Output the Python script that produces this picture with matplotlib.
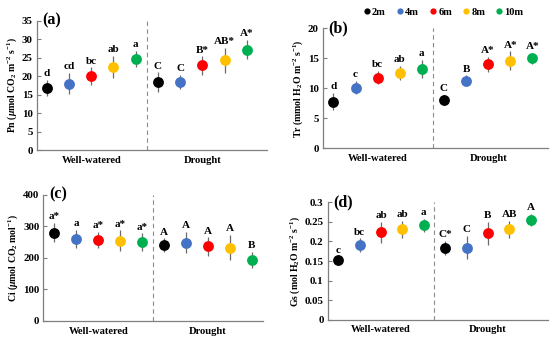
import numpy as np
import matplotlib
matplotlib.use("Agg")
import matplotlib.pyplot as plt
from matplotlib.ticker import FuncFormatter, MultipleLocator
from matplotlib.lines import Line2D

plt.rcParams['font.family'] = ['Liberation Serif', 'DejaVu Serif']
plt.rcParams['font.weight'] = 'bold'
plt.rcParams['mathtext.fontset'] = 'custom'
plt.rcParams['mathtext.rm'] = 'Liberation Serif:bold'
plt.rcParams['mathtext.it'] = 'Liberation Serif:bold:italic'
plt.rcParams['mathtext.bf'] = 'Liberation Serif:bold'

groups = ["Well-watered", "Drought"]
series = ["2m", "4m", "6m", "8m", "10m"]
colors = ["#000000", "#4472C4", "#FF0000", "#FFC000", "#00B050"]

# Pn
pn_mean = [[16.9, 18.0, 20.0, 22.5, 24.7], [18.4, 18.5, 22.9, 24.3, 27.2]]
pn_err = [[2.2, 2.9, 2.4, 3.1, 2.1], [2.6, 1.9, 2.5, 3.4, 2.6]]
pn_let = [["d", "cd", "bc", "ab", "a"], ["C", "C", "B*", "AB*", "A*"]]
# Tr
tr_mean = [[7.8, 10.1, 11.8, 12.6, 13.2], [8.1, 11.3, 14.0, 14.6, 15.0]]
tr_err = [[1.4, 1.1, 1.1, 1.2, 1.5], [0.85, 0.85, 1.25, 1.55, 0.95]]
tr_let = [["d", "c", "bc", "ab", "a"], ["C", "B", "A*", "A*", "A*"]]
# Ci
ci_mean = [[280, 260, 256, 254, 249], [240, 248, 236, 232, 194]]
ci_err = [[31, 29, 26, 33, 29], [22, 34, 29, 40, 25]]
ci_let = [["a*", "a", "a*", "a*", "a*"], ["A", "A", "A", "A", "B"]]
# Gs
gs_mean = [[0.152, 0.190, 0.223, 0.231, 0.241], [0.184, 0.184, 0.221, 0.231, 0.255]]
gs_err = [[0.009, 0.018, 0.027, 0.022, 0.017], [0.018, 0.030, 0.029, 0.021, 0.016]]
gs_let = [["c", "bc", "ab", "ab", "a"], ["C*", "C", "B", "AB", "A"]]

panels = [
    dict(tag="(a)", mean=pn_mean, err=pn_err, let=pn_let, ymax=35, step=5,
         ylabel=r"Pn ($\mu$mol CO$_2$ m$^{-2}$ s$^{-1}$)",
         pos=[0.067, 0.560, 0.418, 0.379], xlim=(-0.45, 9.9)),
    dict(tag="(b)", mean=tr_mean, err=tr_err, let=tr_let, ymax=20, step=5,
         ylabel=r"Tr (mmol H$_2$O m$^{-2}$ s$^{-1}$)",
         pos=[0.587, 0.565, 0.409, 0.352], xlim=(-0.48, 9.7)),
    dict(tag="(c)", mean=ci_mean, err=ci_err, let=ci_let, ymax=400, step=100,
         ylabel=r"Ci ($\mu$mol CO$_2$ mol$^{-1}$)",
         pos=[0.079, 0.059, 0.399, 0.370], xlim=(-0.5, 9.5)),
    dict(tag="(d)", mean=gs_mean, err=gs_err, let=gs_let, ymax=0.3, step=0.05,
         ylabel=r"Gs (mol H$_2$O m$^{-2}$ s$^{-1}$)",
         pos=[0.596, 0.062, 0.400, 0.345], xlim=(-0.49, 9.8)),
]

fig = plt.figure(figsize=(5.5, 3.41), dpi=100)
spine_col = "#7f7f7f"

for p in panels:
    ax = fig.add_axes(p["pos"])
    for gi, g in enumerate(groups):
        for si, s in enumerate(series):
            x = gi * len(series) + si
            m = p["mean"][gi][si]
            e = p["err"][gi][si]
            ax.errorbar(x, m, yerr=e, fmt='o', color=colors[si], ms=7.8,
                        ecolor="#6b6b6b", elinewidth=0.9, capsize=2.2,
                        capthick=0.9, zorder=3, markeredgewidth=0)
            ax.annotate(p["let"][gi][si], (x, m + e), xytext=(0, 1.2),
                        textcoords='offset points', ha='center', va='bottom',
                        fontsize=8, fontweight='bold')
        ax.text(gi * len(series) + (len(series) - 1) / 2, -0.045, g,
                transform=ax.get_xaxis_transform(), ha='center', va='top',
                fontsize=7.6, fontweight='bold')
    ax.axvline(len(series) - 0.5, color="#8c8c8c", lw=0.8, ls=(0, (4, 3)), zorder=1)
    ax.set_xlim(*p["xlim"])
    ax.set_ylim(0, p["ymax"])
    ax.yaxis.set_major_locator(MultipleLocator(p["step"]))
    ax.yaxis.set_major_formatter(FuncFormatter(lambda v, pos: ("%g" % round(v, 4))))
    ax.set_xticks([])
    ax.tick_params(axis='y', direction='in', length=3, width=0.8, color=spine_col,
                   labelsize=7.8, pad=3)
    for lab in ax.get_yticklabels():
        lab.set_fontweight('bold')
    for sp in ['top', 'right']:
        ax.spines[sp].set_visible(False)
    for sp in ['left', 'bottom']:
        ax.spines[sp].set_color(spine_col)
        ax.spines[sp].set_linewidth(0.9)
    ax.set_ylabel(p["ylabel"], fontsize=7, fontweight='bold', labelpad=2)
    ax.text(0.025, 1.0, p["tag"], transform=ax.transAxes, ha='left', va='center',
            fontsize=11.5, fontweight='bold')

handles = [Line2D([], [], ls='none', marker='o', ms=4.5, color=c, markeredgewidth=0)
           for c in colors]
fig.legend(handles, series, loc='center', bbox_to_anchor=(0.805, 0.965), ncol=5,
           frameon=False, prop=dict(family='Liberation Serif', weight='bold', size=7.5),
           handletextpad=0.05, columnspacing=0.9, handlelength=0.9)

fig.savefig("out.png", dpi=100)
